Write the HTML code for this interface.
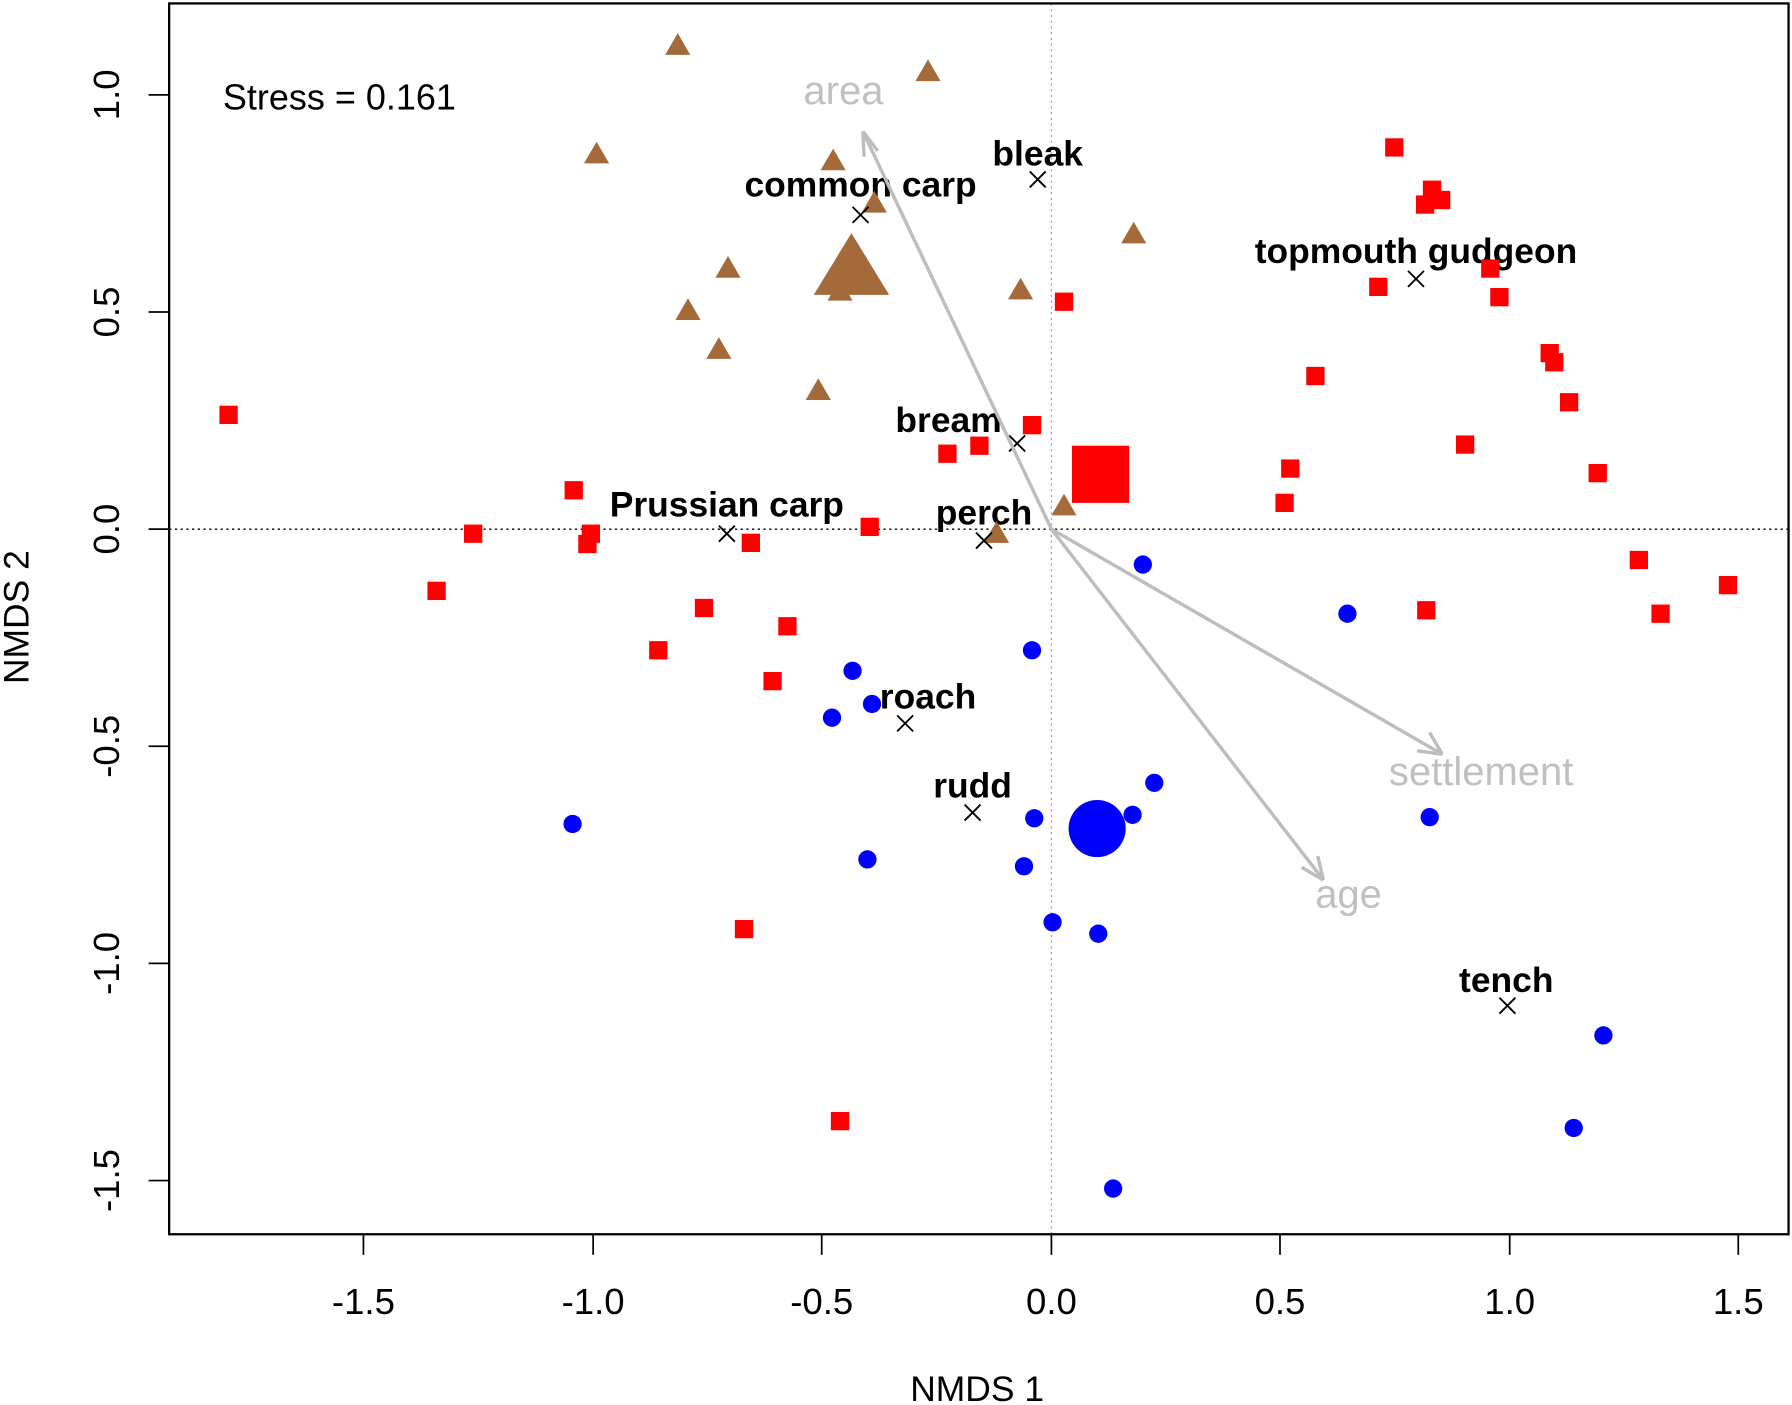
<!DOCTYPE html>
<html><head><meta charset="utf-8"><style>html,body{margin:0;padding:0;background:#fff}svg{display:block}</style></head><body>
<svg xmlns="http://www.w3.org/2000/svg" width="1792" height="1405" viewBox="0 0 1568 1229.4" font-family="Liberation Sans, Arial, sans-serif">
<rect width="1568" height="1230" fill="#fff"/>
<line x1="148" y1="463" x2="1565" y2="463" stroke="#000" stroke-width="1.2" stroke-dasharray="2,3"/>
<line x1="920" y1="3" x2="920" y2="1080" stroke="#aaa" stroke-width="1.2" stroke-dasharray="2,3"/>
<rect x="148" y="3" width="1417" height="1077" fill="none" stroke="#000" stroke-width="2"/>
<g stroke="#000" stroke-width="1.5">
<line x1="318" y1="1080" x2="318" y2="1098"/><line x1="519" y1="1080" x2="519" y2="1098"/><line x1="719" y1="1080" x2="719" y2="1098"/><line x1="920" y1="1080" x2="920" y2="1098"/><line x1="1120" y1="1080" x2="1120" y2="1098"/><line x1="1321" y1="1080" x2="1321" y2="1098"/><line x1="1521" y1="1080" x2="1521" y2="1098"/>
<line x1="130" y1="83" x2="148" y2="83"/><line x1="130" y1="273" x2="148" y2="273"/><line x1="130" y1="463" x2="148" y2="463"/><line x1="130" y1="653" x2="148" y2="653"/><line x1="130" y1="843" x2="148" y2="843"/><line x1="130" y1="1033" x2="148" y2="1033"/>
</g>
<g font-size="32" text-anchor="middle" fill="#000">
<text x="318" y="1150">-1.5</text><text x="519" y="1150">-1.0</text><text x="719" y="1150">-0.5</text><text x="920" y="1150">0.0</text><text x="1120" y="1150">0.5</text><text x="1321" y="1150">1.0</text><text x="1521" y="1150">1.5</text>
<text transform="translate(104,83) rotate(-90)">1.0</text>
<text transform="translate(104,273) rotate(-90)">0.5</text>
<text transform="translate(104,463) rotate(-90)">0.0</text>
<text transform="translate(104,653) rotate(-90)">-0.5</text>
<text transform="translate(104,843) rotate(-90)">-1.0</text>
<text transform="translate(104,1033) rotate(-90)">-1.5</text>
</g>
<g font-size="31" text-anchor="middle" fill="#000">
<text x="855" y="1226">NMDS 1</text>
<text transform="translate(25,540) rotate(-90)">NMDS 2</text>
</g>
<text x="195" y="96" font-size="31.5">Stress = 0.161</text>
<g font-size="31" font-weight="bold" text-anchor="middle" fill="#000">
<text x="753" y="172">common carp</text>
<text x="908" y="145">bleak</text>
<text x="1239" y="230">topmouth gudgeon</text>
<text x="830" y="378">bream</text>
<text x="636" y="452">Prussian carp</text>
<text x="861" y="459">perch</text>
<text x="812" y="620">roach</text>
<text x="851" y="698">rudd</text>
<text x="1318" y="868">tench</text>
</g>
<g id="pts"></g>
<rect x="938" y="390" width="50" height="50" fill="#ff0000"/>
<polygon points="712,258 778,258 745,204" fill="#a56a3a"/>
<circle cx="960" cy="725" r="25" fill="#0000ff"/>
<g stroke="#000" stroke-width="1.6">
<path d="M746,181l14,14M760,181l-14,14"/>
<path d="M901,150l14,14M915,150l-14,14"/>
<path d="M1232,237l14,14M1246,237l-14,14"/>
<path d="M883,381l14,14M897,381l-14,14"/>
<path d="M629,460l14,14M643,460l-14,14"/>
<path d="M854,466l14,14M868,466l-14,14"/>
<path d="M785,626l14,14M799,626l-14,14"/>
<path d="M844,704l14,14M858,704l-14,14"/>
<path d="M1312,873l14,14M1326,873l-14,14"/>
</g>
<g stroke="#bdbdbd" stroke-width="3" fill="none">
<path d="M920,463 L755,115"/>
<path d="M755,115 l1,22 M755,115 l13,17"/>
<path d="M920,463 L1262,660"/>
<path d="M1262,660 l-22,-3 M1262,660 l-11,-19"/>
<path d="M920,463 L1158,770"/>
<path d="M1158,770 l-19,-11 M1158,770 l-5,-21"/>
</g>
<g fill="#c0c0c0" font-size="35" text-anchor="middle">
<text x="738" y="91">area</text>
<text x="1296" y="687">settlement</text>
<text x="1180" y="794">age</text>
</g>
<script>
(function(){
var NS="http://www.w3.org/2000/svg";
var sq=[[200,363],[414,467],[382,517],[502,429],[517,467],[514,476],[616,532],[576,569],[657,475],[689,548],[676,596],[761,461],[829,397],[857,390],[903,372],[931,264],[651,813],[735,981],[1220,129],[1253,166],[1247,179],[1261,175],[1304,235],[1312,260],[1206,251],[1151,329],[1356,309],[1360,317],[1373,352],[1282,389],[1129,410],[1124,440],[1398,414],[1434,490],[1453,537],[1512,512],[1248,534]];
var tri=[[593,40],[812,63],[522,135],[729,141],[765,178],[637,235],[602,272],[629,306],[716,342],[893,254],[992,205],[735,255],[931,443],[872,467]];
var cir=[[1000,494],[1179,537],[903,569],[746,587],[763,616],[728,628],[501,721],[759,752],[905,716],[896,758],[991,713],[1010,685],[921,807],[961,817],[1251,715],[974,1040],[1403,906],[1377,987]];
var pts=document.getElementById('pts');
function el(n,a){var e=document.createElementNS(NS,n);for(var k in a)e.setAttribute(k,a[k]);pts.appendChild(e);}
sq.forEach(function(p){el('rect',{x:p[0]-8,y:p[1]-8,width:16,height:16,fill:'#ff0000'});});
tri.forEach(function(p){var x=p[0],y=p[1];el('polygon',{points:(x-11)+','+(y+8)+' '+(x+11)+','+(y+8)+' '+x+','+(y-11),fill:'#a56a3a'});});
cir.forEach(function(p){el('circle',{cx:p[0],cy:p[1],r:8,fill:'#0000ff'});});
})();
</script>
</svg>
</body></html>
